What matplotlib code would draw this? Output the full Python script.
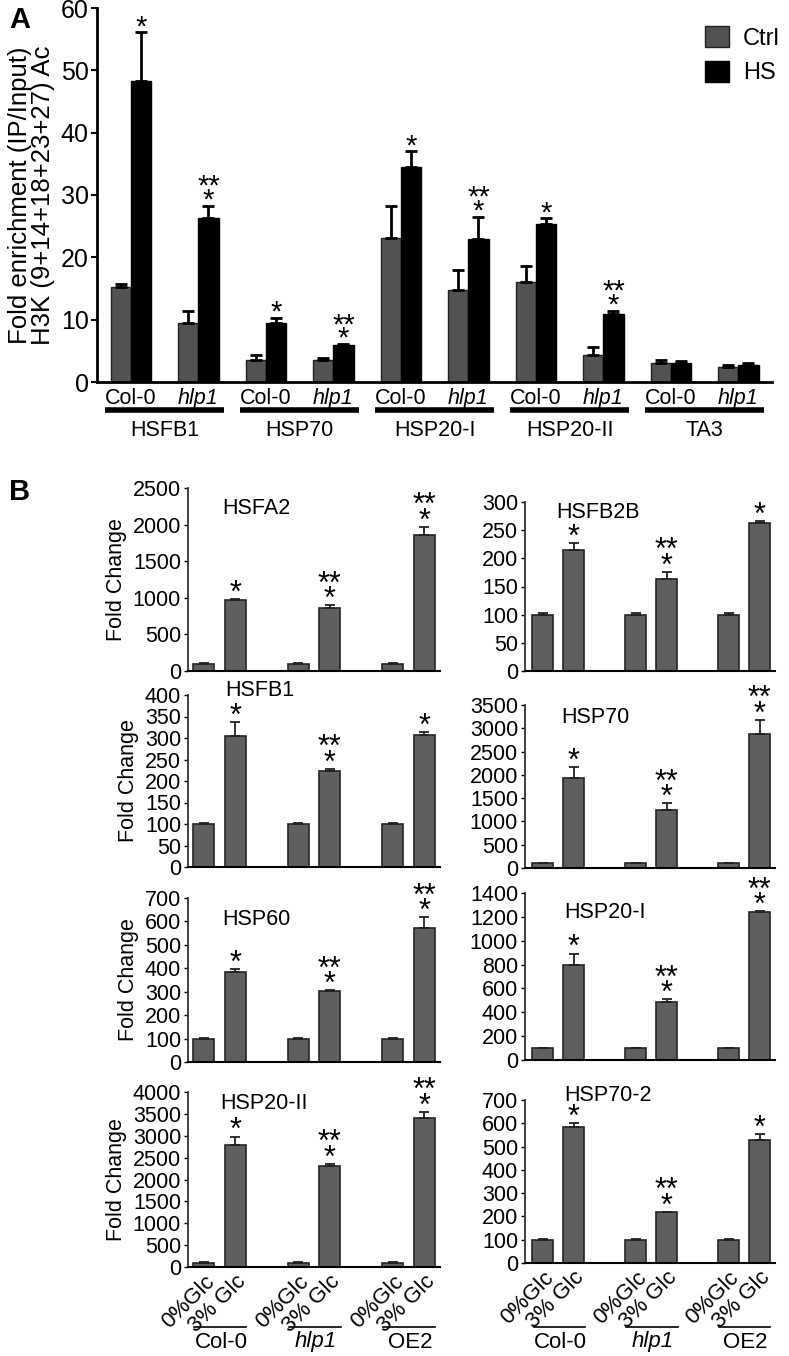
import numpy as np
import matplotlib.pyplot as plt
from matplotlib import transforms

plt.rcParams['font.family'] = ['Liberation Sans', 'DejaVu Sans']
NARROW = ['Liberation Sans Narrow', 'Liberation Sans', 'DejaVu Sans']

# ---- panel A data: H3K Ac ChIP, Ctrl vs HS ----
genes_a = ["HSFB1", "HSP70", "HSP20-I", "HSP20-II", "TA3"]
lines_a = ["Col-0", "hlp1"]
ctrl_a = [15.2, 9.5, 3.6, 3.6, 23.1, 14.7, 16.0, 4.4, 3.0, 2.4]
ctrl_err_a = [0.5, 1.9, 0.7, 0.2, 5.2, 3.3, 2.6, 1.2, 0.5, 0.3]
hs_a = [48.3, 26.3, 9.5, 6.0, 34.5, 22.9, 25.3, 10.9, 3.0, 2.8]
hs_err_a = [7.8, 2.0, 0.8, 0.1, 2.5, 3.6, 1.0, 0.5, 0.3, 0.3]
marks_a = [1, 2, 1, 2, 1, 2, 1, 2, 0, 0]  # 1 = "*", 2 = "**" over "*"

# ---- panel B data: fold change, 0% vs 3% Glc ----
genes_b = ["HSFA2", "HSFB2B", "HSFB1", "HSP70", "HSP60", "HSP20-I", "HSP20-II", "HSP70-2"]
groups_b = ["Col-0", "hlp1", "OE2"]
glc0_b = [[100, 100, 100]] * 8
glc0_err_b = [[3, 3, 3]] * 8
glc3_b = [[970, 865, 1860], [215, 163, 262], [305, 223, 308], [1930, 1245, 2880],
          [383, 301, 570], [797, 489, 1243], [2800, 2300, 3400], [585, 217, 530]]
glc3_err_b = [[15, 30, 110], [12, 13, 4], [32, 5, 5], [240, 140, 300],
              [12, 5, 48], [95, 20, 5], [180, 60, 150], [15, 3, 25]]
oe2_marks = [2, 1, 1, 2, 2, 2, 2, 1]
ytop_b = [2500, 300, 400, 3500, 700, 1400, 4000, 700]
ystep_b = [500, 50, 50, 500, 100, 200, 500, 100]

W, H = 789, 1356
fig = plt.figure(figsize=(W / 100, H / 100), dpi=100)


def rect(x0, x1, ytop, ybot):
    return [x0 / W, 1 - ybot / H, (x1 - x0) / W, (ybot - ytop) / H]


def stars(ax, x, top, kind, size=22, off=-6.5):
    if kind == 0:
        return
    label = "*" if kind == 1 else "**\n*"
    ax.annotate(label, (x, top), xytext=(0, off), textcoords="offset points",
                ha="center", va="bottom", fontsize=size, linespacing=0.36)


# ================= Panel A =================
ax = fig.add_axes(rect(97, 772, 8, 382))
pos = np.arange(len(ctrl_a))
bw = 0.3
ax.bar(pos - bw / 2, ctrl_a, bw, color="#525252", edgecolor="#222222", lw=1, label="Ctrl")
ax.bar(pos + bw / 2, hs_a, bw, color="black", edgecolor="black", lw=1, label="HS")
ax.errorbar(pos - bw / 2, ctrl_a, yerr=[np.zeros(len(pos)), ctrl_err_a], fmt="none",
            ecolor="black", elinewidth=2, capsize=4, capthick=2)
ax.errorbar(pos + bw / 2, hs_a, yerr=[np.zeros(len(pos)), hs_err_a], fmt="none",
            ecolor="black", elinewidth=2, capsize=4, capthick=2)
for i in range(len(pos)):
    stars(ax, pos[i] + bw / 2, hs_a[i] + hs_err_a[i], marks_a[i], size=21, off=-6.5)

ax.set_xlim(-0.5, len(pos) - 0.5)
ax.set_ylim(0, 60)
ax.set_yticks(np.arange(0, 61, 10))
for s in ["top", "right"]:
    ax.spines[s].set_visible(False)
ax.spines["left"].set_linewidth(2)
ax.spines["bottom"].set_linewidth(2)
ax.tick_params(axis="y", length=4, width=1.5, labelsize=18, pad=2)
for t in ax.get_yticklabels():
    t.set_family(NARROW)
ax.set_xticks(pos, lines_a * len(genes_a))
ax.tick_params(axis="x", length=0, labelsize=15.5, pad=4)
for i, t in enumerate(ax.get_xticklabels()):
    t.set_family(NARROW)
    if i % 2 == 1:
        t.set_fontstyle("italic")

ta = transforms.blended_transform_factory(ax.transData, fig.transFigure)
for g, name in enumerate(genes_a):
    x0, x1 = 2 * g - 0.38, 2 * g + 1 + 0.38
    ax.plot([x0, x1], [1 - 410 / H] * 2, color="black", lw=4, transform=ta,
            clip_on=False, solid_capstyle="butt")
    ax.text(2 * g + 0.5, 1 - 431 / H, name, transform=ta, ha="center", va="center",
            fontsize=15.5, family=NARROW)

ax.set_ylabel("Fold enrichment (IP/Input)\nH3K (9+14+18+23+27) Ac", fontsize=18.5,
              linespacing=0.95, labelpad=4)
ax.legend(loc="upper left", bbox_to_anchor=((684 - 97) / 675, 1 + 3 / 374),
          frameon=False, handlelength=1.0, handleheight=1.0,
          labelspacing=0.45, handletextpad=0.6, prop={"family": NARROW, "size": 17})

fig.text(20 / W, 1 - 20 / H, "A", fontsize=21, fontweight="bold", ha="center", va="center")

# ================= Panel B =================
axes_px = [
    (188, 440, 488, 671), (525, 775, 502, 671),
    (188, 440, 695, 867), (525, 775, 705, 868),
    (188, 440, 898, 1062), (525, 775, 893, 1060),
    (188, 440, 1092, 1267), (525, 775, 1100, 1263),
]
title_pos = [(0.27, 0.89), (0.29, 0.94), (0.285, 1.025), (0.28, 0.925),
             (0.27, 0.866), (0.32, 0.886), (0.30, 0.937), (0.33, 1.03)]

bpos0 = np.array([0, 3, 6])
bpos1 = bpos0 + 1
bbw = 0.68
for k, name in enumerate(genes_b):
    x0, x1, yt, yb = axes_px[k]
    ax = fig.add_axes(rect(x0, x1, yt, yb))
    ax.bar(bpos0, glc0_b[k], bbw, color="#5f5f5f", edgecolor="#262626", lw=1.2)
    ax.bar(bpos1, glc3_b[k], bbw, color="#5f5f5f", edgecolor="#262626", lw=1.2)
    ax.errorbar(bpos0, glc0_b[k], yerr=[np.zeros(3), glc0_err_b[k]], fmt="none",
                ecolor="#222222", elinewidth=1.3, capsize=3.5, capthick=1.3)
    ax.errorbar(bpos1, glc3_b[k], yerr=[np.zeros(3), glc3_err_b[k]], fmt="none",
                ecolor="#222222", elinewidth=1.3, capsize=3.5, capthick=1.3)
    kinds = [1, 2, oe2_marks[k]]
    for j in range(3):
        stars(ax, bpos1[j], glc3_b[k][j] + glc3_err_b[k][j], kinds[j], size=22, off=-7)

    ax.set_xlim(-0.5 if k % 2 == 0 else -0.58, 7.5)
    ax.set_ylim(0, ytop_b[k])
    ax.set_yticks(np.arange(0, ytop_b[k] + 1, ystep_b[k]))
    for s in ["top", "right"]:
        ax.spines[s].set_visible(False)
    ax.spines["left"].set_linewidth(1.3)
    ax.spines["left"].set_color("#333333")
    ax.spines["bottom"].set_linewidth(1.5)
    ax.tick_params(axis="y", length=3, width=1, labelsize=15.5, pad=2)
    ax.text(title_pos[k][0], title_pos[k][1], name, transform=ax.transAxes,
            ha="center", va="center", fontsize=15.5)
    if k % 2 == 0:
        ax.set_ylabel("Fold Change", fontsize=15.5, labelpad=4)

    if k >= 6:
        xt = np.ravel(np.column_stack([bpos0, bpos1]))
        ax.set_xticks(xt, ["0%Glc", "3% Glc"] * 3, rotation=45, ha="right",
                      rotation_mode="anchor", fontsize=16)
        ax.tick_params(axis="x", length=0, pad=3)
        tb = transforms.blended_transform_factory(ax.transData, fig.transFigure)
        for j, g in enumerate(groups_b):
            ax.plot([bpos0[j] - 0.3, bpos1[j] + 0.35], [1 - 1327 / H] * 2, color="black",
                    lw=1.2, transform=tb, clip_on=False)
            ax.text(bpos0[j] + 0.55, 1 - 1342 / H, g, transform=tb, ha="center", va="center",
                    fontsize=16, fontstyle="italic" if g == "hlp1" else "normal")
    else:
        ax.set_xticks([])

fig.text(20 / W, 1 - 492 / H, "B", fontsize=21, fontweight="bold", ha="center", va="center")

fig.savefig("out.png", dpi=100)
